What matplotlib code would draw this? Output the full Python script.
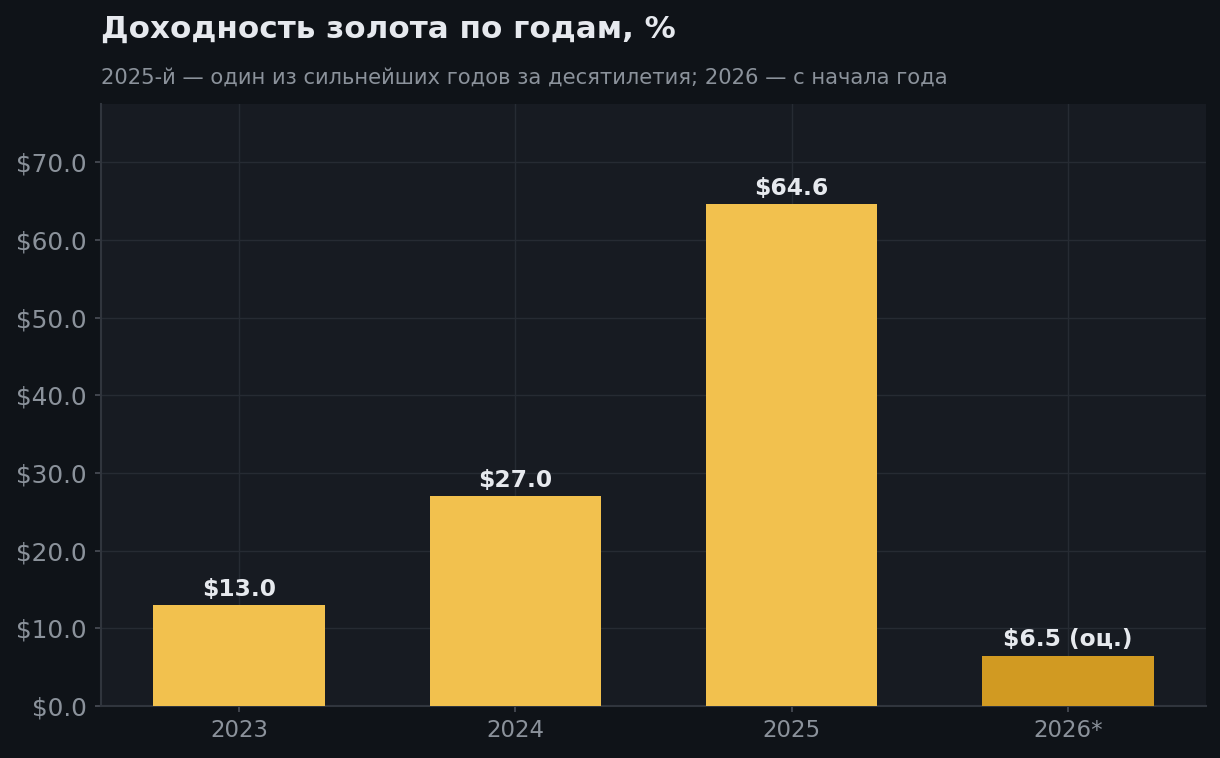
import matplotlib.pyplot as plt
from matplotlib.ticker import FuncFormatter

# Data
years = ["2023", "2024", "2025", "2026*"]
returns = [13.0, 27.0, 64.6, 6.5]
value_labels = ["$13.0", "$27.0", "$64.6", "$6.5 (оц.)"]
bar_colors = ["#f2c14e", "#f2c14e", "#f2c14e", "#d19a22"]

BG = "#0f1318"
AX_BG = "#171b22"
GRID = "#262b33"
TICK = "#8b929b"
TEXT = "#e6e9ee"
SPINE = "#30353d"

fig = plt.figure(figsize=(12.2, 7.58), dpi=100, facecolor=BG)
ax = fig.add_axes([101 / 1220, 52 / 758, 1105 / 1220, 602 / 758])
ax.set_facecolor(AX_BG)

x = range(len(years))
ax.bar(x, returns, width=0.62, color=bar_colors, zorder=3)

for xi, v, lab in zip(x, returns, value_labels):
    ax.annotate(lab, (xi, v), xytext=(0, 3), textcoords="offset points",
                ha="center", va="bottom", fontsize=16.8, fontweight="bold",
                color=TEXT, zorder=4)

ax.set_xlim(-0.5, 3.5)
ax.set_ylim(0, max(returns) * 1.2)
ax.set_yticks([0, 10, 20, 30, 40, 50, 60, 70])
ax.yaxis.set_major_formatter(FuncFormatter(lambda v, p: f"${v:.1f}"))
ax.set_xticks(list(x))
ax.set_xticklabels(years)

ax.grid(True, color=GRID, linewidth=1, zorder=0)
ax.tick_params(axis="x", colors="#4a4f57", labelcolor=TICK, labelsize=16.5,
               length=4.5, width=1.2, pad=5)
ax.tick_params(axis="y", colors="#4a4f57", labelcolor=TICK, labelsize=17.8,
               length=4.5, width=1.2, pad=6)
for side in ["top", "right"]:
    ax.spines[side].set_visible(False)
for side in ["left", "bottom"]:
    ax.spines[side].set_color(SPINE)
    ax.spines[side].set_linewidth(1.5)

fig.text(101 / 1220, 1 - 38 / 758, "Доходность золота по годам, %",
         fontsize=22.3, fontweight="bold", color=TEXT, ha="left", va="baseline")
fig.text(101 / 1220, 1 - 84 / 758,
         "2025-й — один из сильнейших годов за десятилетия; 2026 — с начала года",
         fontsize=15.2, color=TICK, ha="left", va="baseline")

fig.savefig("out.png", dpi=100, facecolor=BG)
